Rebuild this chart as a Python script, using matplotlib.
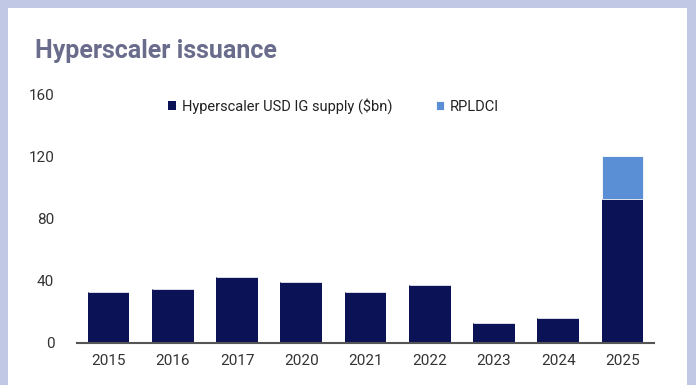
import matplotlib.pyplot as plt
from matplotlib.patches import Rectangle
import numpy as np

years = ["2015", "2016", "2017", "2020", "2021", "2022", "2023", "2024", "2025"]
supply = [33, 35, 42.5, 39.5, 33, 37, 13, 16, 92.5]
rpldci = [0, 0, 0, 0, 0, 0, 0, 0, 27.5]
yticks = [0, 40, 80, 120, 160]

navy = "#0c1256"
light = "#5b8fd5"
frame = "#c1c8e6"

plt.rcParams['font.family'] = ['Roboto', 'DejaVu Sans']

fig = plt.figure(figsize=(6.96, 3.85), dpi=100)
fig.patch.set_facecolor(frame)
fig.patches.append(Rectangle((8 / 696, 0), 679 / 696, 377 / 385, transform=fig.transFigure,
                             facecolor="white", edgecolor="none", zorder=-5))

ax = fig.add_axes([76.5 / 696, 42 / 385, 578 / 696, 249 / 385])
ax.set_zorder(2)
ax.set_facecolor("none")
x = np.arange(len(years))
ax.bar(x, supply, width=0.65, color=navy, label="Hyperscaler USD IG supply ($bn)", zorder=2)
ax.bar(x, rpldci, width=0.65, bottom=supply, color=light, label="RPLDCI",
       edgecolor="white", linewidth=0.6, zorder=2)

ax.set_xlim(-0.5, len(years) - 0.5)
ax.set_ylim(0, 160)
ax.set_yticks(yticks)
ax.set_xticks(x)
ax.set_xticklabels(years)
ax.tick_params(axis="both", length=0, labelsize=11, colors="#333333")
ax.tick_params(axis="x", pad=8)
ax.tick_params(axis="y", pad=16)
for s in ["top", "right", "left"]:
    ax.spines[s].set_visible(False)
ax.spines["bottom"].set_color("#555555")
ax.spines["bottom"].set_linewidth(1.5)

leg = ax.legend(loc="upper center", bbox_to_anchor=(0.445, 1.035), ncol=2, frameon=False,
                fontsize=10.5, handlelength=0.55, handleheight=0.55, handletextpad=0.4,
                columnspacing=3.0, labelcolor="#222222")

fig.text(35 / 696, 1 - 51 / 385, "Hyperscaler issuance", fontsize=18, fontweight="bold",
         color="#6a6c8c", va="center", ha="left")

fig.savefig("out.png", dpi=100, facecolor=fig.get_facecolor())
